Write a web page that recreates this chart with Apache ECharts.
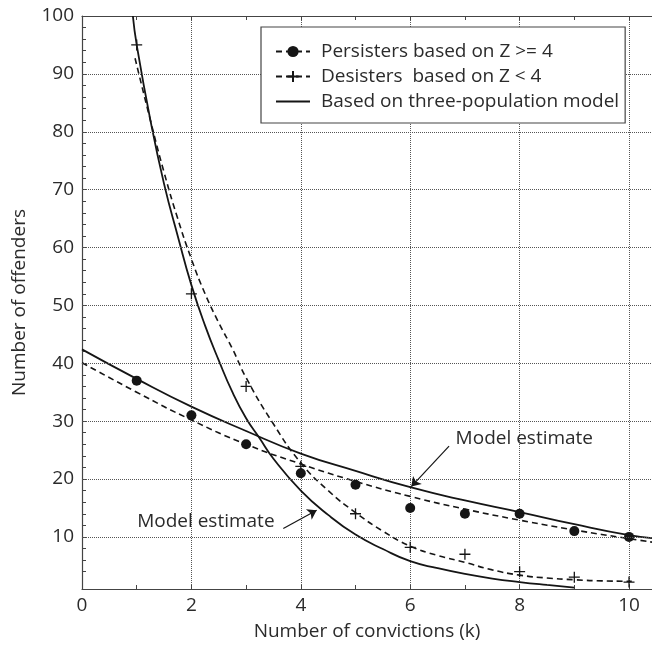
<!DOCTYPE html>
<html>
<head>
<meta charset="utf-8">
<script src="https://cdn.jsdelivr.net/npm/echarts@6/dist/echarts.min.js"></script>
<style>
  html, body { margin: 0; padding: 0; background: #fff; }
  #main { width: 652px; height: 648px; }
</style>
</head>
<body>
<div id="main"></div>
<script>
// observed counts
var convictions = [1, 2, 3, 4, 5, 6, 7, 8, 9, 10];
var persistersObs = [37, 31, 26, 21, 19, 15, 14, 14, 11, 10];
var desistersObs = [95, 52, 36, 22.2, 14, 8.2, 7, 4, 3.05, 2.2];

// fitted curves
var persistersCurveX = [0, 1, 2, 3, 4, 5, 6, 7, 8, 9, 10, 10.42];
var persistersFit = [40.1, 35.0, 30.2, 26.0, 22.6, 19.6, 17.0, 14.8, 12.9, 11.2, 9.7, 9.1];
var persistersModel = [42.4, 37.3, 32.5, 28.3, 24.4, 21.4, 18.6, 16.3, 14.3, 12.2, 10.3, 9.8];

var desistersFitX = [0.97, 1.25, 1.5, 1.75, 2, 2.25, 2.5, 2.75, 3, 3.5, 4, 4.5, 5, 5.5, 6, 6.5, 7, 7.5, 8, 8.5, 9, 9.5, 10, 10.05];
var desistersFit = [92.7, 82, 73, 65, 58, 52, 47, 42.5, 37.5, 29.5, 22.8, 18.0, 14.2, 11.0, 8.4, 6.8, 5.6, 4.3, 3.4, 2.9, 2.6, 2.4, 2.35, 2.35];

var desistersModelX = [0.93, 1, 1.25, 1.5, 1.75, 2, 2.25, 2.5, 2.75, 3, 3.25, 3.5, 4, 4.5, 5, 5.5, 6, 6.5, 7, 7.5, 8, 8.5, 9];
var desistersModel = [100, 95, 82, 71, 62, 53.5, 46.5, 40.5, 35, 30.5, 27, 23.5, 18, 13.8, 10.4, 7.9, 5.8, 4.6, 3.6, 2.8, 2.2, 1.7, 1.25];

// axis ticks
var yLabels = [10, 20, 30, 40, 50, 60, 70, 80, 90, 100];
var yTicks = [4, 6, 8, 10, 12, 14, 16, 18, 20, 22, 24, 26, 28, 30, 32, 34, 36, 38, 40, 42, 44, 46, 48, 50,
              52, 54, 56, 58, 60, 62, 64, 66, 68, 70, 72, 74, 76, 78, 80, 82, 84, 86, 88, 90, 92, 94, 96, 98, 100];
var yGrid = [10, 20, 30, 40, 50, 60, 70, 80, 90];

// "Model estimate" notes: [text pos], [arrow from], [arrow to]
var noteText = [[6.83, 27.0], [3.52, 12.7]];
var noteArrows = [[[6.71, 25.7], [6.02, 18.7]], [[3.68, 11.45], [4.29, 14.6]]];

var NAME_P = 'Persisters based on Z >= 4';
var NAME_D = 'Desisters  based on Z < 4';
var NAME_M = 'Based on three-population model';
var FONT = 'Open Sans';
var FS = 19;
var INK = '#151515';
var TXT = '#2b2b2b';
var PLUS = 'path://M5,0L5,10M0,5L10,5';

function zip(xs, ys) {
    return xs.map(function (x, i) { return [x, ys[i]]; });
}

var chart = echarts.init(document.getElementById('main'));

var option = {
    animation: false,
    textStyle: { fontFamily: FONT },
    grid: { left: 82, top: 16, right: 0, bottom: 59 },
    legend: {
        left: 261, top: 27,
        z: 10,
        orient: 'vertical',
        padding: [15, 6, 12, 14],
        itemGap: 6,
        itemWidth: 34,
        itemHeight: 14,
        backgroundColor: '#fff',
        borderColor: '#444',
        borderWidth: 1.2,
        borderRadius: 0,
        textStyle: { fontFamily: FONT, fontSize: FS, color: TXT, padding: [0, 0, 0, 6] },
        data: [
            { name: NAME_P },
            { name: NAME_D },
            { name: NAME_M, itemStyle: { opacity: 0 } }
        ]
    },
    xAxis: [{
        type: 'value',
        min: 0, max: 10.42,
        interval: 2,
        name: 'Number of convictions (k)',
        nameLocation: 'middle',
        nameGap: 33,
        nameTextStyle: { fontSize: FS, color: TXT },
        axisLine: { lineStyle: { color: '#444', width: 1.2 } },
        axisTick: { inside: true, length: 4, lineStyle: { color: '#444' } },
        minorTick: { show: true, splitNumber: 2, length: 4, lineStyle: { color: '#444' } },
        axisLabel: {
            fontSize: FS, color: TXT, margin: 7, showMaxLabel: false,
            formatter: function (v) { return (v % 2 === 0) ? String(v) : ''; }
        },
        splitLine: { show: true, lineStyle: { type: 'dotted', color: '#555', width: 1 } }
    }, {
        type: 'value',
        position: 'top',
        min: 0, max: 10.42,
        interval: 2,
        axisLine: { show: true, lineStyle: { color: '#444', width: 1.2 } },
        axisTick: { inside: true, length: 4, lineStyle: { color: '#444' } },
        minorTick: { show: true, splitNumber: 2, length: 4, lineStyle: { color: '#444' } },
        axisLabel: { show: false },
        splitLine: { show: false }
    }],
    yAxis: {
        type: 'value',
        min: 1, max: 100,
        name: 'Number of offenders',
        nameLocation: 'middle',
        nameGap: 53,
        nameTextStyle: { fontSize: FS, color: TXT },
        axisLine: { show: true, lineStyle: { color: '#444', width: 1.2 } },
        axisTick: { show: true, inside: true, length: 4, customValues: yTicks, lineStyle: { color: '#444' } },
        axisLabel: { fontSize: FS, color: TXT, margin: 8, customValues: yLabels },
        splitLine: { show: false }
    },
    series: [
        {
            // horizontal dotted grid
            type: 'line', data: [], z: 0, silent: true,
            markLine: {
                silent: true, symbol: 'none', label: { show: false },
                lineStyle: { type: 'dotted', color: '#555', width: 1 },
                data: yGrid.map(function (v) { return { yAxis: v }; })
            }
        },
        {
            name: NAME_P, type: 'line', smooth: true,
            data: zip(persistersCurveX, persistersFit),
            symbol: 'circle', symbolSize: 10, showSymbol: false,
            itemStyle: { color: INK },
            lineStyle: { color: INK, width: 1.6, type: [6, 4] }
        },
        {
            name: NAME_D, type: 'line', smooth: true,
            data: zip(desistersFitX, desistersFit),
            symbol: PLUS, symbolSize: 11, showSymbol: false,
            itemStyle: { color: 'none', borderColor: INK, borderWidth: 1.3 },
            lineStyle: { color: INK, width: 1.6, type: [6, 4] }
        },
        {
            name: NAME_M, type: 'line', smooth: true,
            data: zip(persistersCurveX, persistersModel),
            symbol: 'none',
            lineStyle: { color: INK, width: 1.8 },
            itemStyle: { color: INK },
            markLine: {
                silent: true,
                symbol: ['none', 'arrow'], symbolSize: 9,
                label: { show: false },
                lineStyle: { type: 'solid', color: INK, width: 1.2 },
                data: noteArrows.map(function (a) {
                    return [{ coord: a[0] }, { coord: a[1] }];
                })
            },
            markPoint: {
                silent: true, symbol: 'circle', symbolSize: 0,
                data: [
                    { coord: noteText[0], label: { show: true, position: 'right', distance: 0, formatter: 'Model estimate', fontSize: FS, color: TXT } },
                    { coord: noteText[1], label: { show: true, position: 'left', distance: 0, formatter: 'Model estimate', fontSize: FS, color: TXT } }
                ]
            }
        },
        {
            name: NAME_M, type: 'line', smooth: true,
            data: zip(desistersModelX, desistersModel),
            symbol: 'none',
            lineStyle: { color: INK, width: 1.8 },
            itemStyle: { color: INK }
        },
        {
            name: NAME_P, type: 'scatter',
            data: zip(convictions, persistersObs),
            symbol: 'circle', symbolSize: 10,
            itemStyle: { color: INK, opacity: 1 }
        },
        {
            name: NAME_D, type: 'scatter',
            data: zip(convictions, desistersObs),
            symbol: PLUS, symbolSize: 11,
            itemStyle: { color: 'none', borderColor: INK, borderWidth: 1.3, opacity: 1 }
        }
    ]
};

chart.setOption(option);
</script>
</body>
</html>
